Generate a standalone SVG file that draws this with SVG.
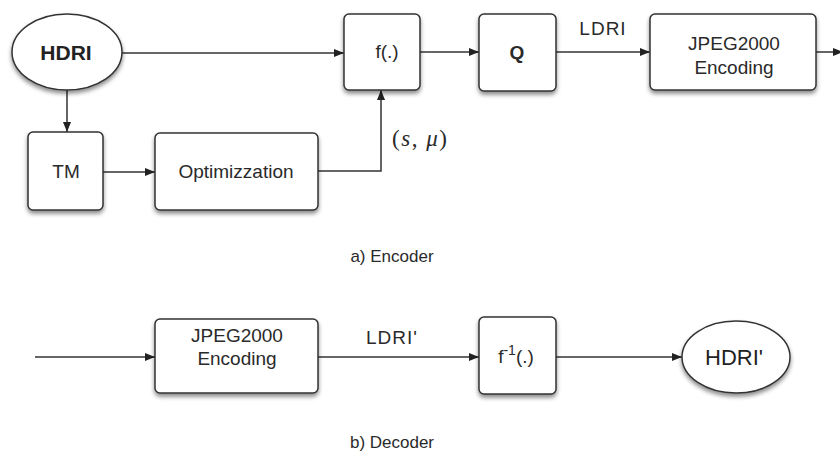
<svg xmlns="http://www.w3.org/2000/svg" width="840" height="454" viewBox="0 0 840 454">
  <style>
    .box { fill: #ffffff; stroke: #333333; stroke-width: 1.5; filter: url(#shadow); }
    .lbl { font-family: "Liberation Sans", Arial, sans-serif; font-size: 19px; fill: #2a2a2a; text-anchor: middle; }
    .big { font-family: "Liberation Sans", Arial, sans-serif; font-size: 21px; font-weight: bold; fill: #222222; text-anchor: middle; }
    .cap { font-family: "Liberation Sans", Arial, sans-serif; font-size: 17px; fill: #2a2a2a; text-anchor: middle; }
    .math { font-family: "Liberation Serif", "Times New Roman", serif; font-size: 23px; fill: #2a2a2a; }
    .wire { fill: none; stroke: #333333; stroke-width: 1.5; }
  </style>
  <defs>
    <filter id="shadow" x="-20%" y="-20%" width="140%" height="150%">
      <feDropShadow dx="0" dy="3" stdDeviation="2.2" flood-color="#000000" flood-opacity="0.45"/>
    </filter>
    <marker id="arrow" markerWidth="10" markerHeight="8" refX="10" refY="4" orient="auto" markerUnits="userSpaceOnUse">
      <path d="M0,0 L10,4 L0,8 Z" fill="#222222"/>
    </marker>
  </defs>
  <rect width="840" height="454" fill="#ffffff"/>

  <!-- connectors -->
  <g id="connectors">
    <line class="wire" x1="122" y1="53" x2="344" y2="53" marker-end="url(#arrow)"/>
    <line class="wire" x1="420" y1="52" x2="479" y2="52" marker-end="url(#arrow)"/>
    <line class="wire" x1="556" y1="52" x2="650" y2="52" marker-end="url(#arrow)"/>
    <line class="wire" x1="816" y1="52" x2="843" y2="52" marker-end="url(#arrow)"/>
    <line class="wire" x1="67" y1="90" x2="67" y2="132" marker-end="url(#arrow)"/>
    <line class="wire" x1="103" y1="172" x2="155" y2="172" marker-end="url(#arrow)"/>
    <polyline class="wire" points="318,171 381,171 381,90" marker-end="url(#arrow)"/>
    <line class="wire" x1="35" y1="357" x2="155" y2="357" marker-end="url(#arrow)"/>
    <line class="wire" x1="318" y1="357" x2="479" y2="357" marker-end="url(#arrow)"/>
    <line class="wire" x1="556" y1="357" x2="682" y2="357" marker-end="url(#arrow)"/>
    <text class="lbl" x="603" y="35" letter-spacing="1">LDRI</text>
    <text class="lbl" x="392" y="344" letter-spacing="1">LDRI'</text>
    <text class="math" x="392" y="146" letter-spacing="1.5">(<tspan font-style="italic">s</tspan>, <tspan font-style="italic">μ</tspan>)</text>
  </g>

  <!-- encoder -->
  <g id="hdri">
    <ellipse class="box" cx="67" cy="52" rx="55" ry="38"/>
    <text class="big" x="66" y="60">HDRI</text>
  </g>
  <g id="f">
    <rect class="box" x="344" y="14" width="76" height="76" rx="5"/>
    <text class="lbl" x="387" y="58">f(.)</text>
  </g>
  <g id="q">
    <rect class="box" x="479" y="14" width="77" height="77" rx="5"/>
    <text class="lbl" x="517" y="59" font-weight="bold">Q</text>
  </g>
  <g id="jpeg-enc">
    <rect class="box" x="650" y="14" width="166" height="76" rx="5"/>
    <text class="lbl" x="734" y="50">JPEG2000</text>
    <text class="lbl" x="734" y="74">Encoding</text>
  </g>
  <g id="tm">
    <rect class="box" x="28" y="132" width="75" height="78" rx="5"/>
    <text class="lbl" x="66" y="178">TM</text>
  </g>
  <g id="optim">
    <rect class="box" x="155" y="133" width="163" height="77" rx="5"/>
    <text class="lbl" x="236" y="178">Optimizzation</text>
  </g>
  <text class="cap" x="392" y="262">a) Encoder</text>

  <!-- decoder -->
  <g id="jpeg-dec">
    <rect class="box" x="155" y="319" width="163" height="74" rx="5"/>
    <text class="lbl" x="237" y="342">JPEG2000</text>
    <text class="lbl" x="237" y="365">Encoding</text>
  </g>
  <g id="finv">
    <rect class="box" x="479" y="317" width="77" height="77" rx="5"/>
    <text class="lbl" x="516" y="363">f<tspan font-size="14" dy="-8">-1</tspan><tspan dy="8">(.)</tspan></text>
  </g>
  <g id="hdri-out">
    <ellipse class="box" cx="736" cy="357" rx="54" ry="36"/>
    <text class="big" x="734" y="365" style="font-weight: normal; font-size: 22px;">HDRI'</text>
  </g>
  <text class="cap" x="392" y="448">b) Decoder</text>
</svg>
